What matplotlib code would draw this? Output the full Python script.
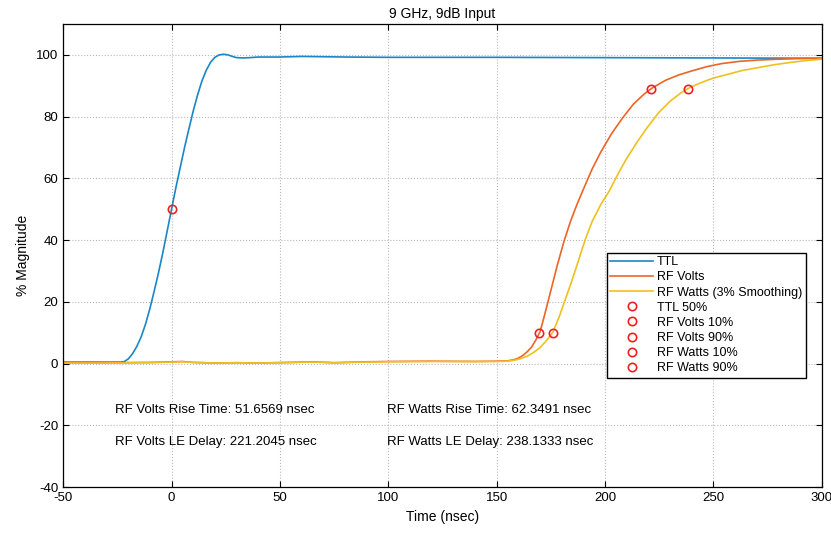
import matplotlib
matplotlib.use("Agg")
import matplotlib.pyplot as plt
import numpy as np

plt.rcParams['font.family'] = ['Liberation Sans', 'DejaVu Sans']
plt.rcParams['axes.unicode_minus'] = False

# TTL trace
ttl_t = [-50, -40, -30, -24, -22, -20, -18, -16, -14, -12, -10, -8, -6, -4, -2,
         0, 2, 4, 6, 8, 10, 12, 14, 16, 18, 20, 22, 24, 26, 28, 30, 33, 36, 40,
         50, 60, 70, 80, 100, 150, 200, 250, 300]
ttl_y = [0.5, 0.5, 0.5, 0.5, 0.6, 1.5, 3.2, 5.6, 8.7, 12.8, 17.8, 23.5, 29.5, 36, 43,
         50, 57, 63.5, 70, 76, 81.8, 87, 91.5, 95, 97.6, 99.2, 100, 100.2, 100, 99.5, 99.1, 99.0, 99.1, 99.3,
         99.3, 99.5, 99.4, 99.3, 99.2, 99.2, 99.1, 99.0, 98.9]

# RF Volts trace
volts_t = [-50, -30, -10, 0, 5, 10, 20, 30, 40, 55, 65, 75, 90, 100, 120, 140, 150,
           155, 158, 160, 162, 164, 166, 168, 170, 172, 174, 176, 178, 181, 184, 187,
           190, 194, 198, 203, 208, 213, 218, 222, 228, 234, 240, 247, 254, 262, 270,
           280, 290, 300]
volts_y = [0.3, 0.3, 0.4, 0.6, 0.7, 0.4, 0.2, 0.3, 0.2, 0.4, 0.6, 0.3, 0.6, 0.7, 0.8, 0.7, 0.8,
           0.9, 1.3, 1.8, 2.6, 3.8, 5.3, 7.6, 10.3, 15.5, 21, 26.5, 32, 39.5, 46, 51.5,
           56.5, 63, 68.5, 74.5, 79.5, 84, 87.3, 89.4, 91.8, 93.5, 94.8, 96.2, 97.2, 97.9, 98.3,
           98.6, 98.8, 98.9]

# RF Watts trace (3% smoothing)
watts_t = [-50, -30, -10, 0, 5, 10, 20, 30, 40, 55, 65, 75, 90, 100, 120, 140, 150,
           155, 158, 161, 164, 167, 170, 173, 176, 179, 182, 185, 188, 191, 194, 198,
           202, 206, 210, 215, 220, 225, 230, 235, 239, 245, 250, 256, 263, 270, 278,
           285, 292, 300]
watts_y = [0.2, 0.2, 0.3, 0.5, 0.6, 0.4, 0.2, 0.3, 0.2, 0.4, 0.5, 0.3, 0.5, 0.6, 0.7, 0.7, 0.7,
           0.8, 1.1, 1.6, 2.4, 3.6, 5.2, 7.5, 10.3, 15.5, 21.5, 27.5, 34, 40.5, 46, 51.5,
           56, 61.5, 66.5, 72, 77, 81.5, 85, 87.7, 89.4, 91.2, 92.5, 93.6, 94.9, 95.8, 96.8,
           97.5, 98.1, 98.6]

# threshold markers
mark_labels = ['TTL 50%', 'RF Volts 10%', 'RF Volts 90%', 'RF Watts 10%', 'RF Watts 90%']
mark_t = [0.0, 169.55, 221.20, 175.78, 238.13]
mark_y = [50.0, 10.0, 89.0, 10.0, 89.0]

notes = [('RF Volts Rise Time: 51.6569 nsec', -26, -15),
         ('RF Watts Rise Time: 62.3491 nsec', 99.5, -15),
         ('RF Volts LE Delay: 221.2045 nsec', -26, -25.5),
         ('RF Watts LE Delay: 238.1333 nsec', 99.5, -25.5)]

c_ttl = '#1a86c8'
c_volts = '#ec6526'
c_watts = '#f0c01e'

fig = plt.figure(figsize=(8.31, 5.33), dpi=100)
ax = fig.add_axes([0.076, 0.086, 0.913, 0.869])

ax.plot(ttl_t, ttl_y, color=c_ttl, lw=1.2, label='TTL')
ax.plot(volts_t, volts_y, color=c_volts, lw=1.2, label='RF Volts')
ax.plot(watts_t, watts_y, color=c_watts, lw=1.2, label='RF Watts (3% Smoothing)')
for lab, t, y in zip(mark_labels, mark_t, mark_y):
    ax.plot(t, y, 'o', ms=6, mfc='none', mec='#f02020', mew=1.2, label=lab)

for txt, x, y in notes:
    ax.text(x, y, txt, fontsize=9.5, ha='left', va='center')

ax.set_xlim(-50, 300)
ax.set_ylim(-40, 110)
ax.set_xticks(np.arange(-50, 301, 50))
ax.set_yticks(np.arange(-40, 101, 20))
ax.tick_params(direction='in', top=True, right=True, labelsize=9.5, length=4)
ax.grid(True, color='#b8b8b8', linestyle=':', linewidth=0.8)
for s in ax.spines.values():
    s.set_linewidth(0.9)

ax.set_title('9 GHz, 9dB Input', fontsize=10, pad=4)
ax.set_xlabel('Time (nsec)', fontsize=10)
ax.set_ylabel('% Magnitude', fontsize=10)

leg = ax.legend(loc='upper right', bbox_to_anchor=(0.987, 0.52), fontsize=9,
                fancybox=False, edgecolor='black', framealpha=1,
                handlelength=3.4, handletextpad=0.3, labelspacing=0.25,
                borderpad=0.3)
leg.get_frame().set_linewidth(1.0)

fig.savefig('out.png', dpi=100)
